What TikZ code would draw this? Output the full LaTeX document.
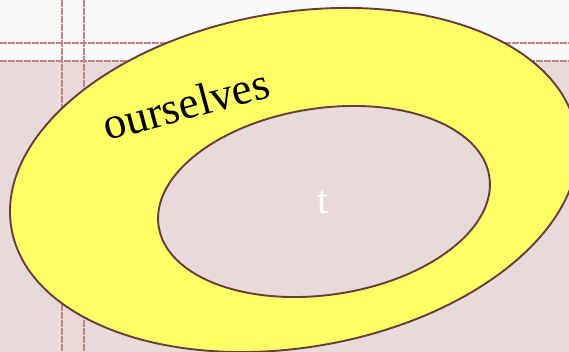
\documentclass[tikz,border=0pt]{standalone}
\usepackage{tikz}
\usepackage{fontspec}
\newfontfamily\labelfont{Liberation Serif}
\definecolor{bgtop}{HTML}{FAFAFA}
\definecolor{bgpink}{HTML}{E9DADA}
\definecolor{guide}{HTML}{C08485}
\definecolor{ringfill}{HTML}{FFFF66}
\definecolor{ringline}{HTML}{6B3B3B}
\tikzset{
  guideline/.style={guide, line width=1.6pt, dash pattern=on 7pt off 1pt},
  ringedge/.style={draw=ringline, line width=1.9pt},
}
\begin{document}
\begin{tikzpicture}[x=1pt,y=-1pt]
\useasboundingbox (0,0) rectangle (569,352);
\fill[bgtop] (0,0) rectangle (569,352);
\fill[bgpink] (0,61) rectangle (569,352);
\draw[guideline] (0,43) -- (569,43);
\draw[guideline] (0,61) -- (569,61);
\draw[guideline] (62,0) -- (62,352);
\draw[guideline] (84,0) -- (84,352);
\draw[ringedge, fill=ringfill, rotate around={9.7:(294,180)}] (294,180) ellipse [x radius=286.7, y radius=167.5];
\draw[ringedge, fill=bgpink, rotate around={8.5:(324,201.5)}] (324,201.5) ellipse [x radius=167.2, y radius=93.3];
\node (outer) [rotate=15, font=\labelfont\fontsize{45}{50}\selectfont, inner sep=0pt] at (186,104) {ourselves};
\node (inner) [white, font=\labelfont\fontsize{40}{44}\selectfont, inner sep=0pt] at (323,202) {t};
\end{tikzpicture}
\end{document}
